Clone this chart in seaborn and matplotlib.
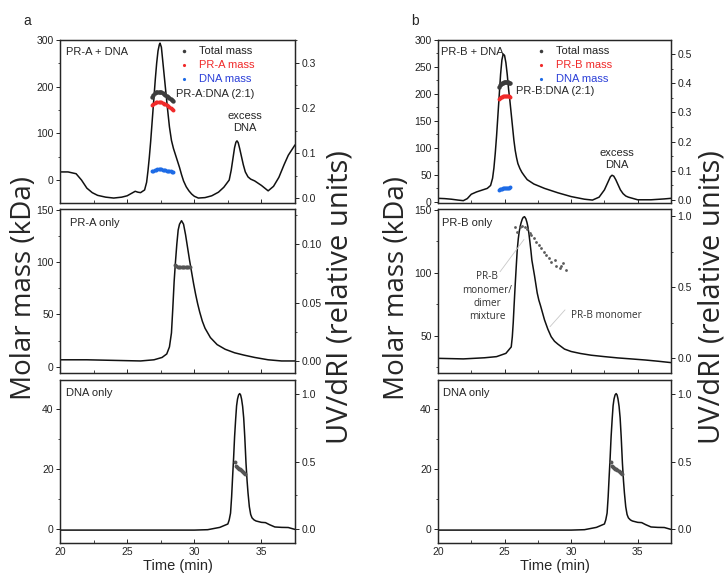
import numpy as np
import pandas as pd
import seaborn as sns
import matplotlib.pyplot as plt
from matplotlib.ticker import MultipleLocator

# ---------- panel a, top: PR-A + DNA ----------
a1_t = [20.0, 20.6, 21.2, 21.6, 22.0, 22.4, 22.8, 23.4, 24.0, 24.6, 25.0, 25.3, 25.6, 25.8, 26.0,
        26.3, 26.45, 26.55, 26.65, 26.75, 26.85, 27.0, 27.1, 27.2, 27.3, 27.4, 27.45, 27.55, 27.7,
        27.85, 28.0, 28.15, 28.3, 28.45, 28.6, 28.75, 28.9, 29.05, 29.2, 29.4, 29.6, 29.8, 30.0,
        30.3, 30.8, 31.3, 31.8, 32.2, 32.6, 32.75, 32.9, 33.0, 33.1, 33.18, 33.27, 33.38, 33.5,
        33.65, 33.8, 34.0, 34.2, 34.5, 35.0, 35.5, 35.9, 36.3, 36.7, 37.0, 37.5]
a1_uv = [0.058, 0.058, 0.054, 0.040, 0.022, 0.012, 0.006, 0.002, 0.000, 0.002, 0.005, 0.010, 0.015,
         0.013, 0.012, 0.018, 0.035, 0.060, 0.090, 0.125, 0.165, 0.225, 0.265, 0.300, 0.327, 0.341,
         0.344, 0.335, 0.290, 0.245, 0.200, 0.158, 0.128, 0.110, 0.096, 0.082, 0.068, 0.052, 0.038,
         0.025, 0.016, 0.009, 0.004, 0.000, 0.001, 0.005, 0.013, 0.024, 0.040, 0.062, 0.092, 0.112,
         0.124, 0.127, 0.123, 0.110, 0.094, 0.074, 0.058, 0.047, 0.042, 0.038, 0.028, 0.016, 0.026,
         0.046, 0.075, 0.095, 0.118]
a1_mt = [26.85, 26.95, 27.05, 27.15, 27.25, 27.35, 27.45, 27.55, 27.65, 27.75, 27.85, 27.95, 28.05,
         28.15, 28.25, 28.35, 28.45]
a1_total = [178, 183, 186, 188, 189, 189, 189, 188, 186, 184, 182, 180, 178, 176, 174, 172, 170]
a1_prot = [160, 163, 165, 167, 168, 168, 168, 167, 166, 164, 162, 160, 158, 156, 154, 152, 151]
a1_dna = [19, 20, 21, 22, 23, 23.5, 23.5, 23, 22.5, 22, 21, 20.5, 20, 19, 18.5, 18, 17.5]

# ---------- panel a, middle: PR-A only ----------
a2_t = [20.0, 22.0, 24.0, 26.0, 27.0, 27.6, 27.95, 28.15, 28.3, 28.4, 28.5, 28.6, 28.7, 28.8, 28.9,
        29.05, 29.2, 29.35, 29.5, 29.65, 29.8, 29.95, 30.1, 30.25, 30.4, 30.6, 30.8, 31.0, 31.2,
        31.7, 32.3, 33.0, 33.7, 34.5, 35.5, 36.5, 37.5]
a2_uv = [0.001, 0.001, 0.0005, 0.0, 0.001, 0.003, 0.006, 0.012, 0.024, 0.045, 0.068, 0.085, 0.100,
         0.112, 0.117, 0.120, 0.117, 0.108, 0.097, 0.086, 0.076, 0.066, 0.057, 0.049, 0.042, 0.034,
         0.028, 0.024, 0.020, 0.014, 0.010, 0.007, 0.005, 0.003, 0.001, 0.0, 0.0]
a2_mt = [28.55, 28.65, 28.75, 28.85, 28.95, 29.05, 29.15, 29.25, 29.35, 29.45, 29.55, 29.65]
a2_mass = [97.5, 96, 95.5, 95.5, 95.5, 95.5, 95.5, 95.5, 95.5, 95.5, 95, 95]

# ---------- bottom row: DNA only (same run in a and b) ----------
dna_t = [20.0, 25.0, 30.0, 31.0, 31.9, 32.5, 32.6, 32.7, 32.78, 32.85, 32.93, 33.0, 33.08, 33.15,
         33.22, 33.3, 33.38, 33.45, 33.52, 33.6, 33.68, 33.76, 33.85, 33.93, 34.0, 34.1, 34.2,
         34.3, 34.45, 34.6, 35.0, 35.3, 35.6, 36.0, 36.5, 37.0, 37.5]
dna_uv = [-0.005, -0.005, -0.005, -0.002, 0.015, 0.04, 0.07, 0.12, 0.24, 0.38, 0.53, 0.68, 0.81,
          0.91, 0.96, 0.99, 1.0, 0.99, 0.96, 0.906, 0.82, 0.68, 0.49, 0.36, 0.27, 0.167, 0.11,
          0.085, 0.07, 0.062, 0.052, 0.050, 0.035, 0.018, 0.015, 0.014, 0.0]
dna_mt = [33.0, 33.08, 33.16, 33.24, 33.32, 33.4, 33.48, 33.56, 33.64, 33.72, 33.8]
dna_mass = [22.5, 21.2, 20.8, 20.5, 20.2, 20.0, 19.6, 19.3, 19.0, 18.7, 18.4]

# ---------- panel b, top: PR-B + DNA ----------
b1_t = [20.0, 20.5, 21.0, 21.5, 21.9, 22.2, 22.5, 22.9, 23.3, 23.7, 23.95, 24.1, 24.2, 24.3, 24.4,
        24.5, 24.6, 24.7, 24.8, 24.9, 25.0, 25.1, 25.2, 25.3, 25.4, 25.5, 25.6, 25.7, 25.8, 25.9,
        26.0, 26.15, 26.3, 26.5, 26.7, 27.2, 28.0, 29.0, 30.0, 31.0, 31.6, 32.1, 32.5, 32.65,
        32.8, 32.95, 33.07, 33.2, 33.35, 33.5, 33.7, 33.9, 34.1, 34.3, 35.0, 36.0, 37.0, 37.5]
b1_uv = [0.006, 0.005, 0.003, 0.0, -0.002, 0.005, 0.020, 0.028, 0.034, 0.040, 0.050, 0.075, 0.11,
         0.16, 0.22, 0.29, 0.36, 0.43, 0.48, 0.50, 0.495, 0.47, 0.43, 0.38, 0.34, 0.295, 0.25,
         0.205, 0.17, 0.145, 0.125, 0.108, 0.095, 0.082, 0.070, 0.055, 0.040, 0.025, 0.012, 0.003,
         0.000, 0.010, 0.035, 0.050, 0.065, 0.080, 0.085, 0.082, 0.070, 0.055, 0.035, 0.022, 0.014,
         0.010, 0.001, 0.001, 0.004, 0.006]
b1_mt = [24.55, 24.62, 24.7, 24.77, 24.85, 24.92, 25.0, 25.07, 25.15, 25.22, 25.3, 25.38]
b1_total = [213, 216, 218, 220, 221, 222, 223, 223, 223, 222, 221, 220]
b1_prot = [190, 192, 194, 195, 196, 197, 197, 197, 197, 196, 196, 195]
b1_dna = [23, 23.5, 24, 24.5, 25, 25.3, 25.6, 25.9, 26.2, 26.4, 26.6, 26.8]

# ---------- panel b, middle: PR-B only ----------
b2_t = [20.0, 21.9, 23.5, 24.4, 25.1, 25.5, 25.58, 25.65, 25.72, 25.8, 25.88, 25.95, 26.03, 26.1,
        26.18, 26.25, 26.33, 26.4, 26.5, 26.6, 26.68, 26.75, 26.83, 26.9, 26.98, 27.05, 27.15,
        27.25, 27.35, 27.45, 27.57, 27.7, 27.85, 28.0, 28.25, 28.5, 28.75, 29.0, 29.5, 30.0, 30.7,
        31.5, 32.5, 33.5, 34.5, 35.6, 36.5, 37.5]
b2_uv = [0.0, -0.004, 0.004, 0.012, 0.035, 0.08, 0.15, 0.25, 0.38, 0.52, 0.65, 0.76, 0.84, 0.89,
         0.93, 0.955, 0.978, 0.99, 0.995, 0.98, 0.955, 0.925, 0.875, 0.82, 0.755, 0.69, 0.635, 0.58,
         0.52, 0.46, 0.41, 0.37, 0.32, 0.27, 0.205, 0.152, 0.12, 0.10, 0.065, 0.048, 0.034, 0.022,
         0.012, 0.003, -0.004, -0.012, -0.02, -0.03]
b2_mt = [25.76, 25.93, 26.14, 26.34, 26.51, 26.69, 26.89, 27.01, 27.19, 27.39, 27.59, 27.76, 27.94,
         28.14, 28.34, 28.51, 28.77, 28.89, 29.14, 29.26, 29.39, 29.59]
b2_mass = [136.2, 132.7, 136.6, 137.2, 136.2, 134.6, 131.9, 130.0, 127.4, 124.7, 122.1, 119.5, 116.8,
           114.1, 111.5, 108.8, 110.2, 105.4, 103.6, 105.4, 108.0, 102.2]

GRAY = '#3c3c3c'
RED = '#f02a2a'
BLUE = '#1d6be6'
BLUE_TXT = '#2b3fd8'

sns.set_style('ticks')
plt.rcParams['font.family'] = ['Liberation Sans', 'DejaVu Sans']
plt.rcParams['axes.linewidth'] = 0.9

W, H = 726, 573
fig = plt.figure(figsize=(W / 100, H / 100), dpi=100)


def make_axes(left, right, top, bottom):
    ax = fig.add_axes([left / W, 1 - bottom / H, (right - left) / W, (bottom - top) / H])
    ax2 = ax.twinx()
    ax.set_zorder(ax2.get_zorder() + 1)
    ax.patch.set_visible(False)
    return ax, ax2


def style(ax, ax2, ylim_l, ylim_r, maj_l, maj_r, xlabels=False):
    ax.set_xlim(20, 37.5)
    ax.set_ylim(*ylim_l)
    ax2.set_ylim(*ylim_r)
    ax.xaxis.set_major_locator(MultipleLocator(5))
    ax.xaxis.set_minor_locator(MultipleLocator(2.5))
    ax.yaxis.set_major_locator(MultipleLocator(maj_l))
    ax.yaxis.set_minor_locator(MultipleLocator(maj_l / 2))
    ax2.yaxis.set_major_locator(MultipleLocator(maj_r))
    ax2.yaxis.set_minor_locator(MultipleLocator(maj_r / 2))
    ax.tick_params(axis='x', which='both', direction='in', labelsize=7.5, pad=3,
                   labelbottom=xlabels)
    ax.tick_params(axis='x', which='major', length=3, width=0.7)
    ax.tick_params(axis='x', which='minor', length=2, width=0.6)
    ax.tick_params(axis='y', which='major', direction='out', length=3, width=0.7,
                   labelsize=7.5, pad=1.5, colors='#222222')
    ax.tick_params(axis='y', which='minor', direction='out', length=1.5, width=0.6)
    ax2.tick_params(axis='y', which='major', direction='out', length=3, width=0.7,
                    labelsize=7.5, pad=1.5, colors='#222222')
    ax2.tick_params(axis='y', which='minor', direction='out', length=1.5, width=0.6)
    ax.set_xlabel('')
    ax.set_ylabel('')
    ax2.set_ylabel('')


def trace(ax2, t, y):
    sns.lineplot(x=t, y=y, ax=ax2, color='#111111', lw=1.1, estimator=None, sort=False)


def masses(ax, t, vals, color, label=None, s=7):
    sns.scatterplot(x=t, y=vals, ax=ax, color=color, s=s, linewidth=0, marker='o',
                    label=label, legend=bool(label))


def mass_legend(ax, x0, colors):
    ax.legend(loc='upper left', bbox_to_anchor=(x0, 0.963), frameon=False, borderpad=0,
              borderaxespad=0, handlelength=0.8, handletextpad=0.9, labelspacing=0.36,
              fontsize=8, labelcolor=colors, markerscale=0.8)


# ---------- column a ----------
ax, ax2 = make_axes(60, 295, 40, 203)
trace(ax2, a1_t, a1_uv)
masses(ax, a1_mt, a1_total, GRAY, 'Total mass', s=10)
masses(ax, a1_mt, a1_prot, RED, 'PR-A mass', s=8)
masses(ax, a1_mt, a1_dna, BLUE, 'DNA mass', s=8)
style(ax, ax2, (-49, 300), (-0.011, 0.351), 100, 0.1)
mass_legend(ax, 0.51, ['#222222', RED, BLUE_TXT])
ax.text(0.026, 0.926, 'PR-A + DNA', transform=ax.transAxes, fontsize=8, va='center')
ax.text(28.64, 184, 'PR-A:DNA (2:1)', fontsize=8, va='center', ha='left')
ax.text(33.78, 125, 'excess\nDNA', fontsize=8, va='center', ha='center', linespacing=1.25)

ax, ax2 = make_axes(60, 295, 209, 373)
trace(ax2, a2_t, a2_uv)
masses(ax, a2_mt, a2_mass, '#555555', s=8)
style(ax, ax2, (-6, 150.5), (-0.0103, 0.130), 50, 0.05)
ax.text(0.043, 0.913, 'PR-A only', transform=ax.transAxes, fontsize=8, va='center')

ax, ax2 = make_axes(60, 295, 380, 543)
trace(ax2, dna_t, dna_uv)
masses(ax, dna_mt, dna_mass, '#555555', s=8)
style(ax, ax2, (-4.6, 49.8), (-0.1, 1.1), 20, 0.5, xlabels=True)
ax.set_xlabel('Time (min)', fontsize=10.5, labelpad=1)
ax.text(0.026, 0.918, 'DNA only', transform=ax.transAxes, fontsize=8, va='center')

# ---------- column b ----------
ax, ax2 = make_axes(438, 671, 40, 203)
trace(ax2, b1_t, b1_uv)
masses(ax, b1_mt, b1_total, GRAY, 'Total mass', s=10)
masses(ax, b1_mt, b1_prot, RED, 'PR-B mass', s=8)
masses(ax, b1_mt, b1_dna, BLUE, 'DNA mass', s=8)
style(ax, ax2, (-2, 300), (-0.010, 0.548), 50, 0.1)
mass_legend(ax, 0.425, ['#222222', RED, BLUE_TXT])
ax.text(0.013, 0.928, 'PR-B + DNA', transform=ax.transAxes, fontsize=8, va='center')
ax.text(25.84, 205, 'PR-B:DNA (2:1)', fontsize=8, va='center', ha='left')
ax.text(33.4, 79, 'excess\nDNA', fontsize=8, va='center', ha='center', linespacing=1.25)

ax, ax2 = make_axes(438, 671, 209, 373)
trace(ax2, b2_t, b2_uv)
masses(ax, b2_mt, b2_mass, '#5a5a5a', s=4)
style(ax, ax2, (20.4, 150.8), (-0.103, 1.049), 50, 0.5)
ax.text(0.017, 0.913, 'PR-B only', transform=ax.transAxes, fontsize=8, va='center')
ax.text(23.68, 81, 'PR-B\nmonomer/\ndimer\nmixture', fontsize=7.2, va='center', ha='center',
        family='Open Sans', color='#333333', linespacing=1.3)
ax.plot([24.66, 26.46], [100.9, 126.6], color='#c8c8c8', lw=0.6)
ax.text(29.97, 66.5, 'PR-B monomer', fontsize=7.2, va='center', ha='left',
        family='Open Sans', color='#333333')
ax.plot([28.41, 29.54], [57.2, 70.6], color='#c8c8c8', lw=0.6)

ax, ax2 = make_axes(438, 671, 380, 543)
trace(ax2, dna_t, dna_uv)
masses(ax, dna_mt, dna_mass, '#555555', s=8)
style(ax, ax2, (-4.6, 49.8), (-0.1, 1.1), 20, 0.5, xlabels=True)
ax.set_xlabel('Time (min)', fontsize=10.5, labelpad=1)
ax.text(0.021, 0.918, 'DNA only', transform=ax.transAxes, fontsize=8, va='center')

# ---------- shared labels ----------
for x in (24, 397):
    fig.text(x / W, 1 - 288 / H, 'Molar mass (kDa)', rotation=90, fontsize=20,
             family='Open Sans', va='center', ha='center')
for x in (340, 712):
    fig.text(x / W, 1 - 297 / H, 'UV/dRI (relative units)', rotation=90, fontsize=21,
             family='Open Sans', va='center', ha='center')
fig.text(27 / W, 1 - 21 / H, 'a', fontsize=10, va='center', ha='center')
fig.text(415 / W, 1 - 21 / H, 'b', fontsize=10, va='center', ha='center')

fig.savefig('out.png', dpi=100)
